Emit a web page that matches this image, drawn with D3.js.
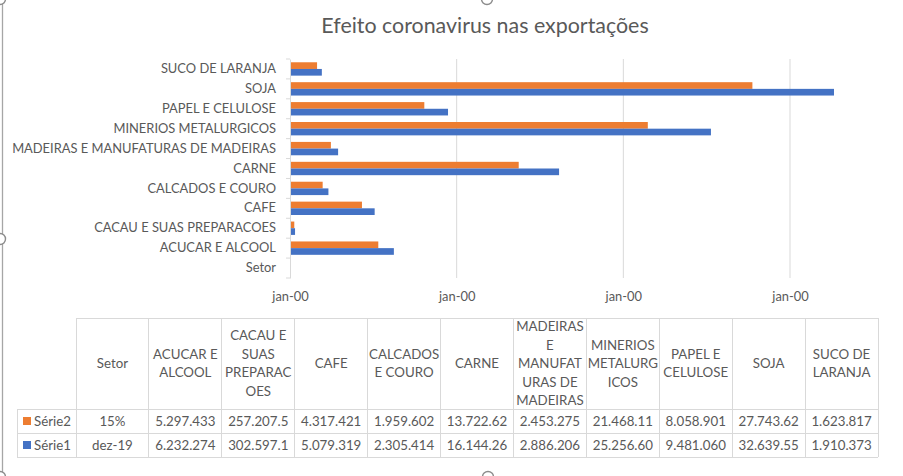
<!DOCTYPE html>
<html><head><meta charset="utf-8">
<script src="https://cdn.jsdelivr.net/npm/d3@7"></script>
<style>
body{margin:0;background:#fff}
svg{display:block;font-family:Lato,"Open Sans",sans-serif}
</style>
</head><body>
<svg id="c" width="903" height="476"></svg>
<script>
const chartTitle = "Efeito coronavirus nas exportações";
const categories = ["Setor","ACUCAR E ALCOOL","CACAU E SUAS PREPARACOES","CAFE","CALCADOS E COURO","CARNE","MADEIRAS E MANUFATURAS DE MADEIRAS","MINERIOS METALURGICOS","PAPEL E CELULOSE","SOJA","SUCO DE LARANJA"];
const serie2 = [null,5297433,257207.5,4317421,1959602,13722620,2453275,21468110,8058901,27743620,1623817];
const serie1 = [null,6232274,302597.1,5079319,2305414,16144260,2886206,25256600,9481060,32639550,1910373];
const seriesNames = ["Série2","Série1"];
const setorRow = ["15%","dez-19"];
const tableHeaders = ["Setor","ACUCAR E\nALCOOL","CACAU E\nSUAS\nPREPARAC\nOES","CAFE","CALCADOS\nE COURO","CARNE","MADEIRAS\nE\nMANUFAT\nURAS DE\nMADEIRAS","MINERIOS\nMETALURG\nICOS","PAPEL E\nCELULOSE","SOJA","SUCO DE\nLARANJA"];
const xTicks = [0,10000000,20000000,30000000];
const xTickLabel = "jan-00";

const colors = {"Série2":"#ED7D31","Série1":"#4472C4"};
const txt = "#595959", grid = "#d9d9d9";
const svg = d3.select("#c");
svg.append("rect").attr("width",903).attr("height",476).attr("fill","#fff");

// title
svg.append("text").attr("x",485).attr("y",33).attr("text-anchor","middle")
  .attr("font-size",21.4).attr("fill",txt).text(chartTitle);

// scales
const x = d3.scaleLinear().domain([0,40000000]).range([290,956.67]);
const y = d3.scaleBand().domain(categories.slice().reverse()).range([59,278]).padding(0);
const ySub = d3.scaleBand().domain(seriesNames).range([0,y.bandwidth()]).paddingInner(0).paddingOuter(0.49);

// gridlines
const g = svg.append("g");
g.selectAll("line.grid").data(xTicks.slice(1)).join("line")
  .attr("x1",d=>x(d)).attr("x2",d=>x(d)).attr("y1",59).attr("y2",278)
  .attr("stroke",grid).attr("stroke-width",1);

// bars
const rows = categories.map((c,i)=>({cat:c, vals:[{s:"Série2",v:serie2[i]},{s:"Série1",v:serie1[i]}]}));
const cg = g.selectAll("g.cat").data(rows).join("g").attr("transform",d=>`translate(0,${y(d.cat)})`);
cg.selectAll("rect").data(d=>d.vals.filter(e=>e.v!=null)).join("rect")
  .attr("x",x(0)).attr("y",d=>ySub(d.s)).attr("height",ySub.bandwidth())
  .attr("width",d=>x(d.v)-x(0)).attr("fill",d=>colors[d.s]);

// y axis
const yAxis = d3.axisLeft(y).tickSize(0).tickPadding(14);
const ya = g.append("g").attr("transform",`translate(${x(0)},0)`).call(yAxis);
ya.select(".domain").attr("stroke",grid);
ya.selectAll("text").attr("fill",txt).attr("font-size",12.9).attr("font-family","Lato");
// boundary ticks
const bounds = categories.map(c=>y(c)).concat([278]);
g.selectAll("line.bt").data(bounds).join("line")
  .attr("x1",x(0)-4).attr("x2",x(0)).attr("y1",d=>d).attr("y2",d=>d).attr("stroke",grid);

// x axis labels
const xAxis = d3.axisBottom(x).tickValues(xTicks).tickSize(0).tickPadding(14).tickFormat(()=>xTickLabel);
const xa = g.append("g").attr("transform","translate(0,278)").call(xAxis);
xa.select(".domain").remove();
xa.selectAll("text").attr("fill",txt).attr("font-size",12.9).attr("font-family","Lato");

// data table
const colX = d3.scaleBand().domain(tableHeaders).range([76,878]);
const tb = svg.append("g").attr("font-size",13.3).attr("fill",txt);
const hTop=318, hBot=409, rH=24;
// borders
const tl = tb.append("g").attr("stroke",grid).attr("stroke-width",1).attr("shape-rendering","crispEdges");
tl.append("line").attr("x1",76).attr("x2",878).attr("y1",hTop).attr("y2",hTop);
[hBot,hBot+rH,hBot+2*rH].forEach(yy=>tl.append("line").attr("x1",17).attr("x2",878).attr("y1",yy).attr("y2",yy));
tableHeaders.forEach(h=>tl.append("line").attr("x1",colX(h)).attr("x2",colX(h)).attr("y1",hTop).attr("y2",hBot+2*rH));
tl.append("line").attr("x1",878).attr("x2",878).attr("y1",hTop).attr("y2",hBot+2*rH);
tl.append("line").attr("x1",17).attr("x2",17).attr("y1",hBot).attr("y2",hBot+2*rH);

// headers
tableHeaders.forEach(h=>{
  const lines=h.split("\n"), lh=18.5;
  const cy=(hTop+hBot)/2;
  const t=tb.append("text").attr("text-anchor","middle").attr("fill",txt);
  lines.forEach((l,i)=>t.append("tspan").attr("x",colX(h)+colX.bandwidth()/2)
    .attr("y",cy+(i-(lines.length-1)/2)*lh).attr("dy","0.35em").text(l));
});
// rows
const fmt = d3.formatLocale({decimal:".",thousands:".",grouping:[3],currency:["",""]}).format(",");
const seriesData = [serie2, serie1];
seriesNames.forEach((s,ri)=>{
  const cy=hBot+rH*ri+rH/2;
  tb.append("rect").attr("x",23).attr("y",cy-4).attr("width",8).attr("height",8).attr("fill",colors[s]);
  tb.append("text").attr("x",34).attr("y",cy).attr("dy","0.35em").attr("fill",txt).text(s);
  tableHeaders.forEach((h,ci)=>{
    const v = ci===0 ? setorRow[ri] : fmt(seriesData[ri][ci]).slice(0,9);
    tb.append("text").attr("x",colX(h)+colX.bandwidth()/2).attr("y",cy).attr("dy","0.35em")
      .attr("text-anchor","middle").attr("fill",txt).text(v);
  });
});

// selection frame & handles
const fr = svg.append("g");
fr.append("line").attr("x1",2.5).attr("x2",2.5).attr("y1",0).attr("y2",476).attr("stroke","#a6a6a6").attr("stroke-width",1.3);
[[0,-1],[487,-1],[0,239],[0,477],[488,477]].forEach(([cx,cy])=>
  fr.append("circle").attr("cx",cx).attr("cy",cy).attr("r",5.5).attr("fill","#fff").attr("stroke","#8c8c8c").attr("stroke-width",1.4));
</script>
</body></html>
